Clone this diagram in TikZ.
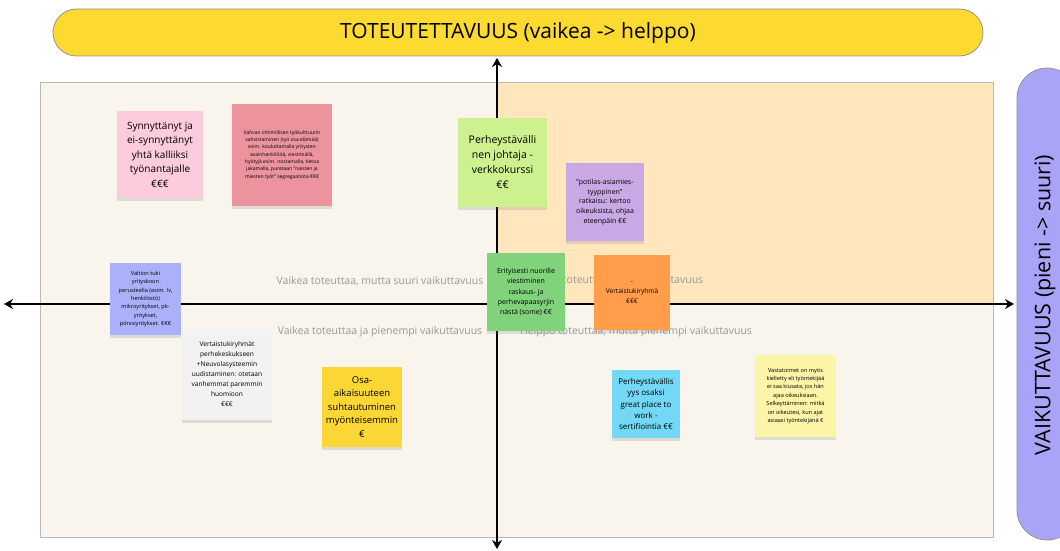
\documentclass[tikz,border=0pt]{standalone}
\usepackage{fontspec}
\setmainfont{Open Sans}
\usetikzlibrary{arrows.meta,shadows}
\definecolor{paper}{HTML}{F9F4EC}
\definecolor{easyhigh}{HTML}{FFE6BD}
\definecolor{titleyellow}{HTML}{FDDA2F}
\definecolor{impactviolet}{HTML}{AAA4F9}
\definecolor{notepink}{HTML}{FDCCDC}
\definecolor{notered}{HTML}{EC939E}
\definecolor{notelime}{HTML}{CDF18E}
\definecolor{notelilac}{HTML}{C9A8E6}
\definecolor{noteblue}{HTML}{AAB0FA}
\definecolor{notegray}{HTML}{F2F2F2}
\definecolor{noteyellow}{HTML}{FAD734}
\definecolor{notegreen}{HTML}{80D37B}
\definecolor{noteorange}{HTML}{FF9D4A}
\definecolor{notecyan}{HTML}{72D8F6}
\definecolor{notecream}{HTML}{FCF4A6}
\newcommand{\fs}[2]{\fontsize{#1}{#2}\selectfont}

\begin{document}
\begin{tikzpicture}[x=1pt,y=-1pt,
    axis/.style={line width=2.4pt,{Stealth[length=9pt,width=10pt]}-{Stealth[length=9pt,width=10pt]}},
    pill/.style={draw=gray!85,line width=0.8pt},
    quad/.style={text=gray!80,font=\fs{10.5}{12}},
    note/.style={align=center,inner sep=0pt,drop shadow={shadow xshift=0pt,shadow yshift=-3pt,opacity=0.22}}]
    \useasboundingbox (0,0) rectangle (1060,551);

    \fill[paper] (40,82) rectangle (993,537);
    \fill[easyhigh] (497,82) rectangle (993,304);
    \draw[gray!55,line width=0.6pt] (40,82) rectangle (993,537);

    \draw[pill,fill=titleyellow,rounded corners=23.5pt] (53,9) rectangle (983,56);
    \node[font=\fs{21}{24}] (feasibility) at (518,33) {TOTEUTETTAVUUS (vaikea -> helppo)};
    \draw[pill,fill=impactviolet,rounded corners=30pt] (1017,68) rectangle (1077,540);
    \node[font=\fs{21.5}{24},rotate=90] (impact) at (1045,305) {VAIKUTTAVUUS (pieni -> suuri)};

    \node[quad] (hardhigh) at (380,281) {Vaikea toteuttaa, mutta suuri vaikuttavuus};
    \node[quad] (hardlow) at (380,332) {Vaikea toteuttaa ja pienempi vaikuttavuus};
    \node[quad] (easyhigh) at (614,281) {Helppo toteuttaa, suuri vaikuttavuus};
    \node[quad] (easylow) at (636,332) {Helppo toteuttaa, mutta pienempi vaikuttavuus};

    \coordinate (axtop) at (497,58);
    \coordinate (axbottom) at (497,549);
    \coordinate (axleft) at (4,304);
    \coordinate (axright) at (1014,304);
    \draw[axis] (axbottom) -- (axtop);
    \draw[axis] (axleft) -- (axright);

    \node[note,fill=notepink,minimum width=86,minimum height=87,font=\fs{10}{14.5}] (synnyttanyt) at (160,154.5)
        {Synnyttänyt ja\\ei-synnyttänyt\\yhtä kalliiksi\\työnantajalle\\€€€};
    \node[note,fill=notered,minimum width=100,minimum height=102,font=\fs{5}{7.3}] (kulttuuri) at (282,155)
        {Vahvan inhimillisen työkulttuurin\\vahvistaminen (työ osa elämää)\\esim. kouluttamalla yritysten\\avainhenkilöitä, viestimällä,\\hyötyjä esim. nostamalla, tietoa\\jakamalla, puretaan "naisten ja\\miesten työt" segregaatiota €€€};
    \node[note,fill=notelime,minimum width=89,minimum height=89,font=\fs{10.5}{15}] (johtaja) at (502.5,162.5)
        {Perheystävälli\\nen johtaja -\\verkkokurssi\\€€};
    \node[note,fill=notelilac,minimum width=78,minimum height=78,font=\fs{7}{9.7}] (asiamies) at (605,202)
        {"potilas-asiamies-\\tyyppinen"\\ratkaisu: kertoo\\oikeuksista, ohjaa\\eteenpäin €€};
    \node[note,fill=noteblue,minimum width=71,minimum height=72,font=\fs{5.6}{8.4}] (valtio) at (145.5,299)
        {Valtion tuki\\yrityskoon\\perusteella (esim. lv,\\henkilöstö)\\mikroyritykset, pk-\\yritykset,\\pörssiyritykset. €€€};
    \node[note,fill=notegray,minimum width=90,minimum height=91,font=\fs{6.6}{10}] (neuvola) at (227,374.5)
        {Vertaistukiryhmät\\perhekeskukseen\\+Neuvolasysteemin\\uudistaminen: otetaan\\vanhemmat paremmin\\huomioon\\€€€};
    \node[note,fill=noteyellow,minimum width=80,minimum height=80,font=\fs{9.5}{13.5}] (osaaika) at (362,407)
        {Osa-\\aikaisuuteen\\suhtautuminen\\myönteisemmin\\€};
    \node[note,fill=notegreen,minimum width=78,minimum height=78,font=\fs{7}{10.2}] (nuoret) at (526,292)
        {Erityisesti nuorille\\viestiminen\\raskaus- ja\\perhevapaasyrjin\\nästä (some) €€};
    \node[note,fill=noteorange,minimum width=76,minimum height=75,font=\fs{6.6}{10}] (vertais) at (632,292.5)
        {-\\Vertaistukiryhmä\\€€€};
    \node[note,fill=notecyan,minimum width=68,minimum height=68,font=\fs{8}{11.3}] (sertifikaatti) at (646,404)
        {Perheystävällis\\yys osaksi\\great place to\\work -\\sertifiointia €€};
    \node[note,fill=notecream,minimum width=81,minimum height=82,font=\fs{5.6}{8.4}] (vastatoimet) at (795.5,396)
        {Vastatoimet on myös\\kielletty eli työntekijää\\ei saa kiusata, jos hän\\ajaa oikeuksiaan.\\Selkeyttäminen: mitkä\\on oikeutesi, kun ajat\\asiaasi työntekijänä €};
\end{tikzpicture}
\end{document}
